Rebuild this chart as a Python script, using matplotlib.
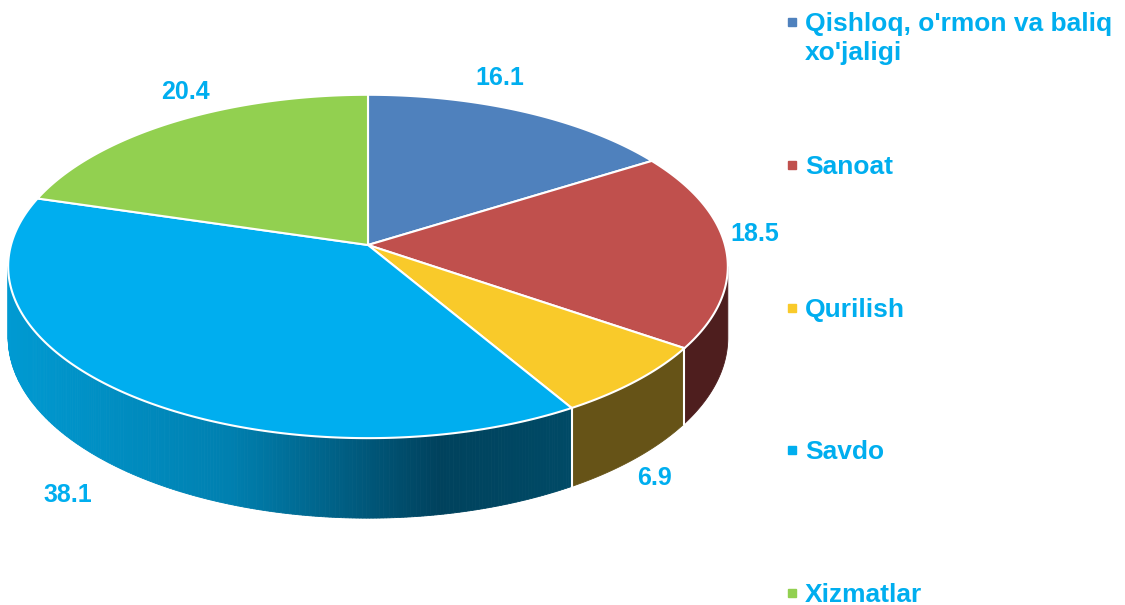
import numpy as np
import matplotlib
matplotlib.use("Agg")
import matplotlib.pyplot as plt
from matplotlib.patches import Polygon
from matplotlib.colors import to_rgb

# ---------------------------------------------------------------------------
# Data
# ---------------------------------------------------------------------------
labels = ["Qishloq, o'rmon va baliq\nxo'jaligi", "Sanoat", "Qurilish", "Savdo", "Xizmatlar"]
values = [16.1, 18.5, 6.9, 38.1, 20.4]
value_text = ["16.1", "18.5", "6.9", "38.1", "20.4"]

top_colors = ["#4F81BD", "#C0504D", "#F9CA2A", "#00AEEF", "#92D050"]
side_colors = ["#2A4566", "#4E1E1E", "#665317", None, "#4E6E2A"]
# gradient stops for the big front side (x pixel, colour)
grad_stops = [(8, "#009AD2"), (230, "#0080B0"), (440, "#00425D"), (570, "#004A66")]

# ---------------------------------------------------------------------------
# Layout (pixels, y down)
# ---------------------------------------------------------------------------
W, H = 1125, 605
CX, CY = 368, 245
RX, RY = 357, 169
K = 0.125          # perspective factor
DEPTH = 70
LABEL_XY = [(500, 85), (755, 241), (655, 485), (68, 502), (185, 99)]
LEG_X, LEG_Y0, LEG_STEP, LEG_LINE = 805, 31, 142.8, 29
TXT = "#00AEEF"
FONT = ["Liberation Sans", "DejaVu Sans"]


def rim(phi_deg, depth=0.0):
    p = np.radians(phi_deg)
    d = 1 + K * np.sin(p)
    return CX + RX * np.cos(p) / d, CY - RY * np.sin(p) / d + depth / d


def grad_color(x):
    xs = [s[0] for s in grad_stops]
    cs = np.array([to_rgb(s[1]) for s in grad_stops])
    return tuple(np.interp(x, xs, cs[:, j]) for j in range(3))


fig = plt.figure(figsize=(W / 100, H / 100), dpi=100)
ax = fig.add_axes([0, 0, 1, 1])
ax.set_xlim(0, W)
ax.set_ylim(H, 0)
ax.axis("off")

total = sum(values)
bounds = 90 - 360 * np.concatenate([[0], np.cumsum(values)]) / total
s = np.degrees(np.arcsin(K))
vis_lo, vis_hi = -180 + s, -s

# side walls
for i in range(len(values)):
    a_hi, a_lo = bounds[i], bounds[i + 1]
    lo, hi = max(a_lo, vis_lo), min(a_hi, vis_hi)
    if lo >= hi:
        continue
    if side_colors[i] is None:
        edges = np.linspace(lo, hi, 240)
        for a, b in zip(edges[:-1], edges[1:]):
            t = np.array([a, b])
            xt, yt = rim(t)
            xb, yb = rim(t[::-1], DEPTH)
            c = grad_color(xt.mean())
            ax.add_patch(Polygon(np.column_stack([np.r_[xt, xb], np.r_[yt, yb]]),
                                 closed=True, fc=c, ec=c, lw=0.6))
    else:
        t = np.linspace(lo, hi, 120)
        xt, yt = rim(t)
        xb, yb = rim(t[::-1], DEPTH)
        ax.add_patch(Polygon(np.column_stack([np.r_[xt, xb], np.r_[yt, yb]]),
                             closed=True, fc=side_colors[i], ec=side_colors[i], lw=0.6))

# white seams between side segments
for b in bounds:
    if vis_lo < b < vis_hi:
        x0, y0 = rim(b)
        x1, y1 = rim(b, DEPTH)
        ax.plot([x0, x1], [y0, y1], color="white", lw=1.5)

# top faces
for i in range(len(values)):
    t = np.linspace(bounds[i], bounds[i + 1], 200)
    xt, yt = rim(t)
    pts = np.column_stack([np.r_[CX, xt], np.r_[CY, yt]])
    ax.add_patch(Polygon(pts, closed=True, fc=top_colors[i], ec="white", lw=1.5,
                         joinstyle="round"))

# value labels
for (x, y), txt in zip(LABEL_XY, value_text):
    ax.text(x, y, txt, ha="center", va="baseline", fontsize=18,
            fontweight="bold", color=TXT, family=FONT)

# legend
for i, lab in enumerate(labels):
    y = LEG_Y0 + i * LEG_STEP
    ax.plot(LEG_X - 13, y - 9, marker="s", ms=6, color=top_colors[i], ls="none")
    for j, line in enumerate(lab.split("\n")):
        ax.text(LEG_X, y + j * LEG_LINE, line, ha="left", va="baseline", fontsize=19,
                fontweight="bold", color=TXT, family=FONT)

fig.savefig("out.png", dpi=100, facecolor="white")
